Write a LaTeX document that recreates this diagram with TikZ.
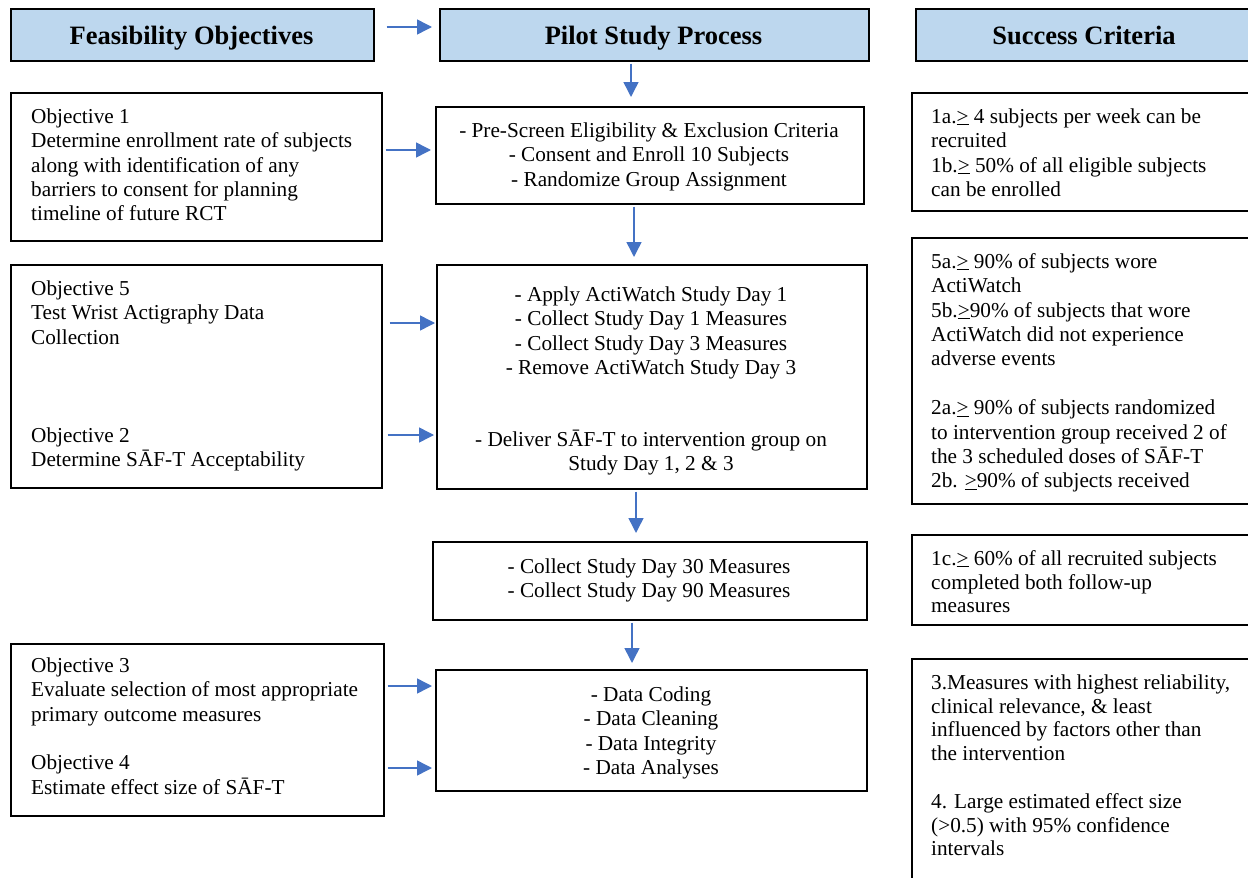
\documentclass[tikz,border=0pt]{standalone}
\usepackage{fontspec}
\setmainfont{Liberation Serif}
\usetikzlibrary{arrows.meta}
\definecolor{hdrfill}{HTML}{BDD7EE}
\definecolor{arrblue}{HTML}{4472C4}
\newcommand{\fs}{\rule{0pt}{16pt}}
\newcommand{\uge}{\underline{>}}
\newcommand{\bodyfont}{\fontsize{21.25}{24.4}\selectfont}
\newcommand{\tightfont}{\fontsize{21.25}{23.8}\selectfont}
\newcommand{\hdrfont}{\fontsize{26.5}{30}\selectfont\bfseries}
\begin{document}
\begin{tikzpicture}[x=1pt,y=-1pt,
 box/.style={draw=black, line width=1.6pt, anchor=north west, inner sep=0pt, fill=white},
 hdr/.style={box, fill=hdrfill},
 txt/.style={anchor=north west, inner sep=0pt, align=left, font=\bodyfont},
 ttxt/.style={txt, font=\tightfont},
 ctxt/.style={anchor=north, inner sep=0pt, align=center, font=\bodyfont},
 htxt/.style={anchor=base, inner sep=0pt, font=\hdrfont},
 arr/.style={draw=arrblue, line width=1.5pt, -{Triangle[length=15pt,width=15pt]}}]
\path[use as bounding box, clip] (0,0) rectangle (1248,878);

% headers
\node[hdr, minimum width=363pt, minimum height=52pt] (hfeas) at (10,8) {};
\node[hdr, minimum width=429pt, minimum height=52pt] (hpilot) at (439,8) {};
\node[hdr, minimum width=345pt, minimum height=52pt] (hsucc) at (915,8) {};
\node[htxt] (tfeas) at (191.5,44) {Feasibility Objectives};
\node[htxt] (tpilot) at (653.5,44) {Pilot Study Process};
\node[htxt] (tsucc) at (1084,44) {Success Criteria};

% left boxes
\node[box, minimum width=371pt, minimum height=148pt] (obj1) at (10,92) {};
\node[box, minimum width=371pt, minimum height=223pt] (obj52) at (10,264) {};
\node[box, minimum width=373pt, minimum height=172pt] (obj34) at (10,643) {};

% centre boxes
\node[box, minimum width=428pt, minimum height=97pt] (c1) at (435,106) {};
\node[box, minimum width=430pt, minimum height=224pt] (c2) at (436,264) {};
\node[box, minimum width=434pt, minimum height=78pt] (c3) at (432,541) {};
\node[box, minimum width=431pt, minimum height=121pt] (c4) at (435,669) {};

% right boxes
\node[box, minimum width=350pt, minimum height=118pt] (r1) at (911,92) {};
\node[box, minimum width=350pt, minimum height=266pt] (r2) at (911,237) {};
\node[box, minimum width=350pt, minimum height=90pt] (r3) at (911,534) {};
\node[box, minimum width=350pt, minimum height=240pt] (r4) at (911,658) {};

% left texts
\node[txt] (tobj1) at (31,107) {\fs Objective 1\\Determine enrollment rate of subjects\\along with identification of any\\barriers to consent for planning\\timeline of future RCT};
\node[txt] (tobj5) at (31,279) {\fs Objective 5\\Test Wrist Actigraphy Data\\Collection};
\node[txt] (tobj2) at (31,426) {\fs Objective 2\\Determine SĀF-T Acceptability};
\node[txt] (tobj3) at (31,656) {\fs Objective 3\\Evaluate selection of most appropriate\\primary outcome measures};
\node[txt] (tobj4) at (31,753.5) {\fs Objective 4\\Estimate effect size of SĀF-T};

% centre texts
\node[ctxt] (tc1) at (649,121) {\fs - Pre-Screen Eligibility \& Exclusion Criteria\\- Consent and Enroll 10 Subjects\\- Randomize Group Assignment};
\node[ctxt] (tc2a) at (651,285) {\fs - Apply ActiWatch Study Day 1\\- Collect Study Day 1 Measures\\- Collect Study Day 3 Measures\\- Remove ActiWatch Study Day 3};
\node[ctxt] (tc2b) at (651,429.5) {\fs - Deliver SĀF-T to intervention group on\\Study Day 1, 2 \& 3};
\node[ctxt] (tc3) at (649,557) {\fs - Collect Study Day 30 Measures\\- Collect Study Day 90 Measures};
\node[ctxt] (tc4) at (651,685) {\fs - Data Coding\\- Data Cleaning\\- Data Integrity\\- Data Analyses};

% right texts
\node[txt] (tr1) at (931,107) {\fs 1a.\uge{} 4 subjects per week can be\\recruited\\1b.\uge{} 50\% of all eligible subjects\\can be enrolled};
\node[txt] (tr2a) at (931,252) {\fs 5a.\uge{} 90\% of subjects wore\\ActiWatch\\5b.\uge{}90\% of subjects that wore\\ActiWatch did not experience\\adverse events};
\node[txt] (tr2b) at (931,398.5) {\fs 2a.\uge{} 90\% of subjects randomized\\to intervention group received 2 of\\the 3 scheduled doses of SĀF-T\\2b. \uge{}90\% of subjects received};
\node[ttxt] (tr3) at (931,549) {\fs 1c.\uge{} 60\% of all recruited subjects\\completed both follow-up\\measures};
\node[ttxt] (tr4a) at (931,673) {\fs 3.Measures with highest reliability,\\clinical relevance, \& least\\influenced by factors other than\\the intervention};
\node[ttxt] (tr4b) at (931,792) {\fs 4. Large estimated effect size\\(>0.5) with 95\% confidence\\intervals};

% arrows
\draw[arr, shorten <=12pt, shorten >=7pt] (hfeas.east |- 0,27) -- (hpilot.west |- 0,27);
\draw[arr, shorten <=2pt, shorten >=9pt] (hpilot.south -| 631,0) -- (c1.north -| 631,0);
\draw[arr, shorten <=2pt, shorten >=7pt] (c1.south -| 634,0) -- (c2.north -| 634,0);
\draw[arr, shorten <=2pt, shorten >=8pt] (c2.south -| 636,0) -- (c3.north -| 636,0);
\draw[arr, shorten <=2pt, shorten >=6pt] (c3.south -| 632,0) -- (c4.north -| 632,0);
\draw[arr, shorten <=3pt, shorten >=4pt] (obj1.east |- 0,150) -- (c1.west |- 0,150);
\draw[arr, shorten <=7pt, shorten >=1pt] (obj52.east |- 0,323) -- (c2.west |- 0,323);
\draw[arr, shorten <=5pt, shorten >=2pt] (obj52.east |- 0,435) -- (c2.west |- 0,435);
\draw[arr, shorten <=3pt, shorten >=3pt] (obj34.east |- 0,686) -- (c4.west |- 0,686);
\draw[arr, shorten <=3pt, shorten >=3pt] (obj34.east |- 0,768) -- (c4.west |- 0,768);
\end{tikzpicture}
\end{document}
